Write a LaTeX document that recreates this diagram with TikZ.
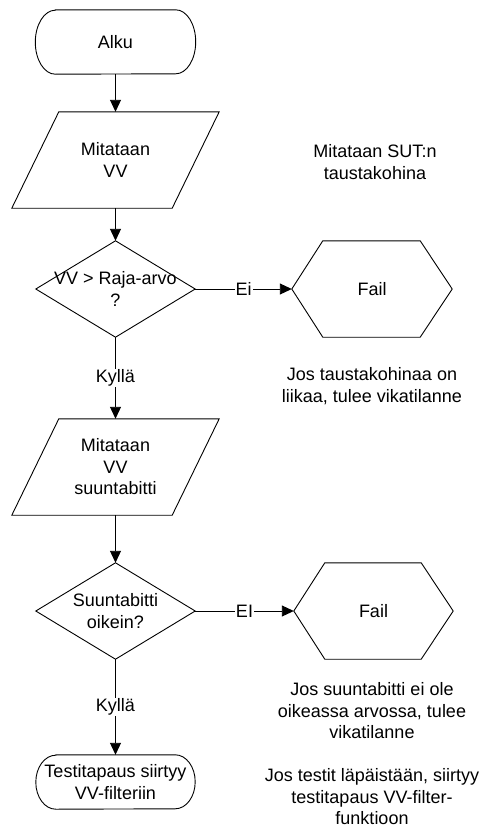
\documentclass[tikz,border=0pt]{standalone}
\usepackage{fontspec}
\setmainfont{Liberation Sans}
\usetikzlibrary{arrows.meta,calc}

\begin{document}
\begin{tikzpicture}[x=1pt,y=1pt,
  every node/.style={font=\fontsize{18}{21.5}\selectfont},
  frame/.style={inner sep=0pt, minimum width=#1, align=center},
  outline/.style={draw=black, line width=0.9pt, line join=miter},
  arr/.style={draw=black, line width=0.9pt, -{Triangle[length=12pt,width=11pt]}},
  lbl/.style={fill=white, inner sep=1pt},
  note/.style={align=center, inner sep=0pt}]

\useasboundingbox (0,0) rectangle (483,-830);
\fill[white] (0,0) rectangle (483,-830);

% --- flow nodes (frames hold the text, outlines drawn below) ---
\node[frame=160, minimum height=64] (start) at (115.5,-42) {Alku};
\node[frame=207, minimum height=96] (meas1) at (115.5,-160) {Mitataan\\VV};
\node[frame=159, minimum height=96] (dec1) at (115.5,-289) {VV > Raja-arvo\\?};
\node[frame=160, minimum height=96] (fail1) at (372,-289) {Fail};
\node[frame=207, minimum height=96] (meas2) at (115.5,-467) {Mitataan\\VV\\suuntabitti};
\node[frame=159, minimum height=96] (dec2) at (115.5,-611) {Suuntabitti\\oikein?};
\node[frame=159, minimum height=96] (fail2) at (373.5,-611) {Fail};
\node[frame=159, minimum height=54] (done) at (115.5,-782) {Testitapaus siirtyy\\VV-filteriin};

% terminators: straight top and bottom with elliptic ends
\draw[outline] ($(start.north west)+(20,0)$) -- ($(start.north east)+(-20,0)$)
  arc[start angle=90, end angle=-90, x radius=20, y radius=32]
  -- ($(start.south west)+(20,0)$)
  arc[start angle=270, end angle=90, x radius=20, y radius=32] -- cycle;
\draw[outline] ($(done.north west)+(20,0)$) -- ($(done.north east)+(-20,0)$)
  arc[start angle=90, end angle=-90, x radius=20, y radius=27]
  -- ($(done.south west)+(20,0)$)
  arc[start angle=270, end angle=90, x radius=20, y radius=27] -- cycle;

% data (parallelogram) boxes
\foreach \n in {meas1,meas2}
  \draw[outline] ($(\n.north west)+(47,0)$) -- (\n.north east)
    -- ($(\n.south east)+(-47,0)$) -- (\n.south west) -- cycle;

% decisions
\foreach \n in {dec1,dec2}
  \draw[outline] (\n.north) -- (\n.east) -- (\n.south) -- (\n.west) -- cycle;

% fail hexagons
\foreach \n in {fail1,fail2}
  \draw[outline] ($(\n.north west)+(31,0)$) -- ($(\n.north east)+(-32,0)$)
    -- (\n.east) -- ($(\n.south east)+(-32,0)$)
    -- ($(\n.south west)+(31,0)$) -- (\n.west) -- cycle;

% --- connectors ---
\draw[arr] (start.south) -- (meas1.north);
\draw[arr] (meas1.south) -- (dec1.north);
\draw[arr] (dec1.east) -- node[lbl] {Ei} (fail1.west);
\draw[arr] (dec1.south) -- node[lbl] {Kyllä} (meas2.north);
\draw[arr] (meas2.south) -- (dec2.north);
\draw[arr] (dec2.east) -- node[lbl] {EI} (fail2.west);
\draw[arr] (dec2.south) -- node[lbl] {Kyllä} (done.north);

% --- side notes ---
\node[note] (n1) at (375,-162) {Mitataan SUT:n\\taustakohina};
\node[note] (n2) at (372,-386) {Jos taustakohinaa on\\liikaa, tulee vikatilanne};
\node[note] (n3) at (372,-711) {Jos suuntabitti ei ole\\oikeassa arvossa, tulee\\vikatilanne};
\node[note] (n4) at (372,-797) {Jos testit läpäistään, siirtyy\\testitapaus VV-filter-\\funktioon};
\end{tikzpicture}
\end{document}
